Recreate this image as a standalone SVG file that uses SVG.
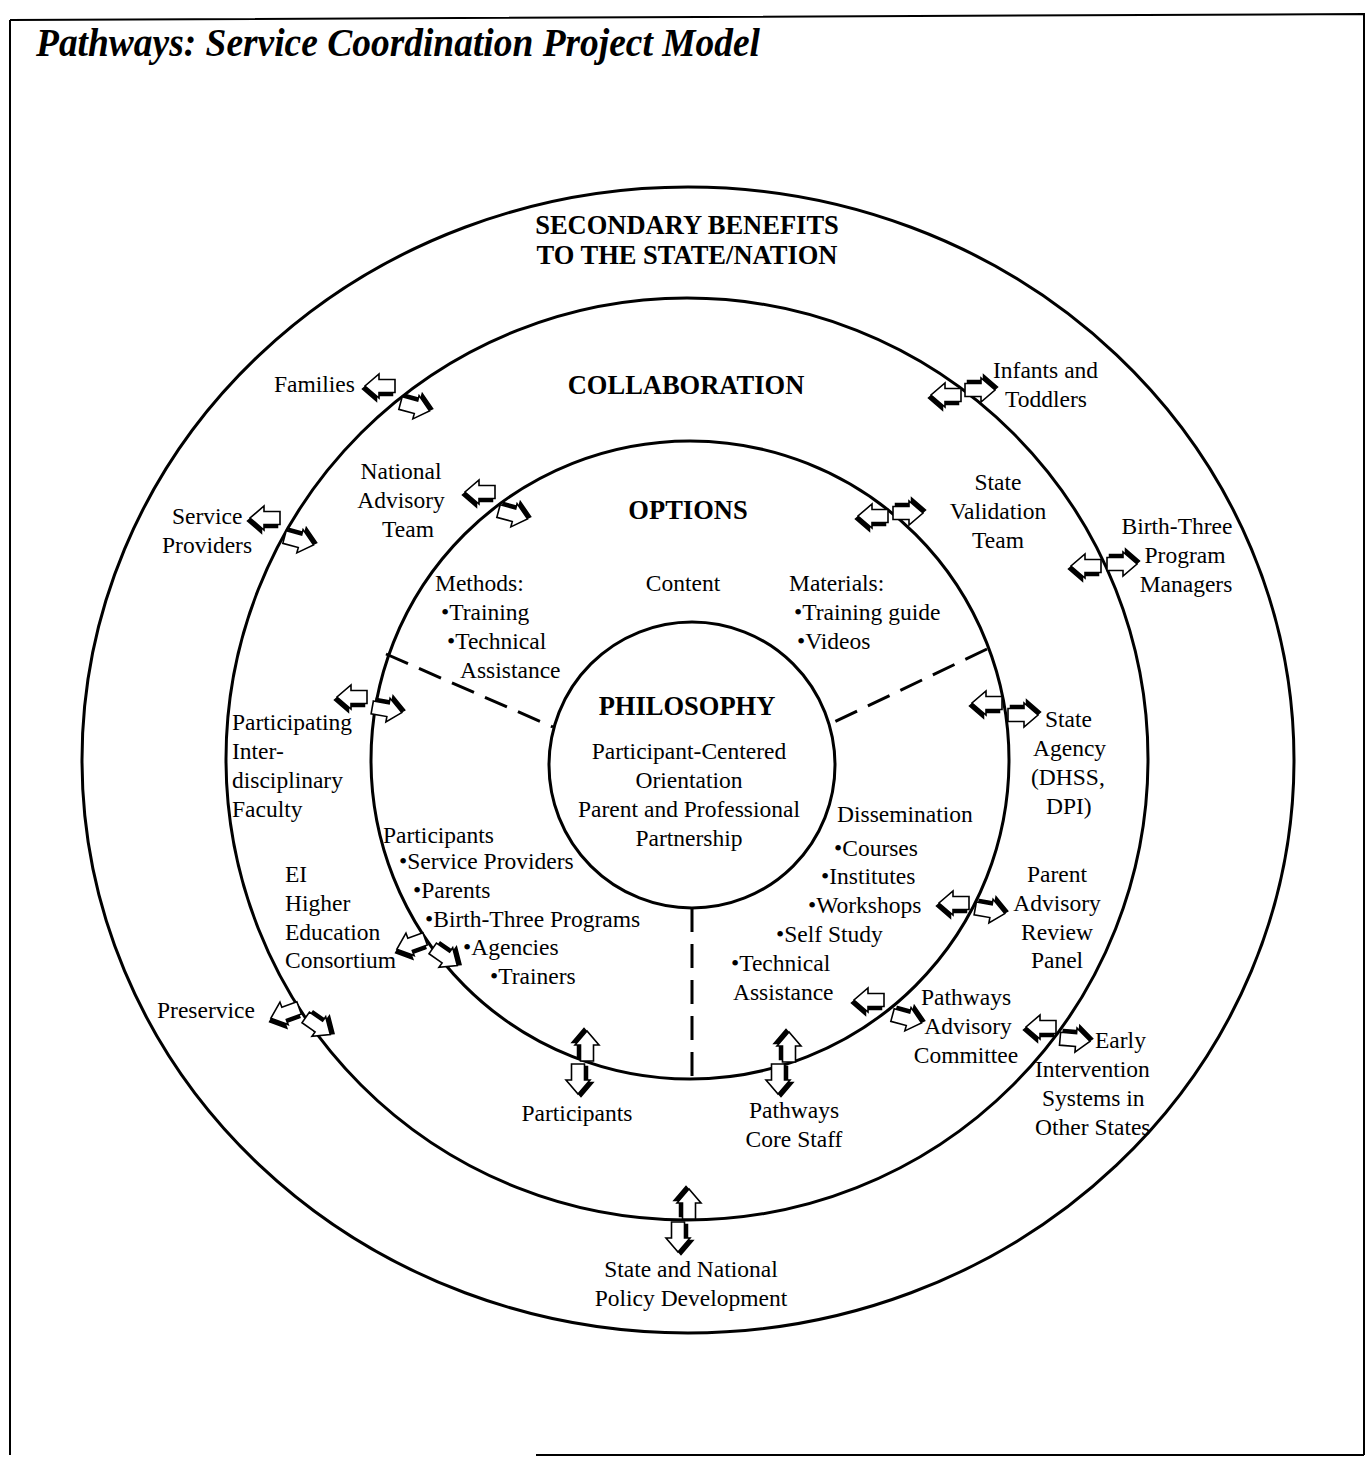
<svg xmlns="http://www.w3.org/2000/svg" xmlns:xlink="http://www.w3.org/1999/xlink" width="1371" height="1457" viewBox="0 0 1371 1457">
  <style>
    text { font-family: "Liberation Serif", "Times New Roman", serif; font-size: 23.5px; fill: #000; }
    .h { font-weight: bold; font-size: 26.5px; text-anchor: middle; }
    .c { text-anchor: middle; }
    .ring { fill: none; stroke: #000; stroke-width: 3; }
    .dash { fill: none; stroke: #000; stroke-width: 3; stroke-dasharray: 24 12; }
    .frame { fill: none; stroke: #000; stroke-width: 2; }
  </style>
  <defs>
    <!-- block arrow pointing +x with an extruded edge on its upper side -->
    <g id="arrow">
      <polygon points="-15,-6.5 1,-6.5 1,-12 15,0 1,12 1,6.5 -15,6.5" transform="translate(2.5,-3)" fill="#000" stroke="#000" stroke-width="1.5"/>
      <polygon points="-15,-6.5 1,-6.5 1,-12 15,0 1,12 1,6.5 -15,6.5" fill="#fff" stroke="#000" stroke-width="1.6"/>
    </g>
  </defs>

  <rect width="1371" height="1457" fill="#fff"/>

  <!-- page frame -->
  <path class="frame" d="M10,20 L1364,14 L1364,1455 M10,20 L10,1455 M536,1455 L1364,1455"/>

  <text x="36" y="56" font-weight="bold" font-style="italic" textLength="724" lengthAdjust="spacingAndGlyphs" style="font-size:41px">Pathways:  Service Coordination Project Model</text>

  <!-- rings -->
  <g id="rings">
    <ellipse class="ring" cx="688" cy="760" rx="606" ry="573"/>
    <circle class="ring" cx="687" cy="759" r="461"/>
    <circle class="ring" cx="690" cy="760" r="319"/>
    <circle class="ring" cx="692" cy="765" r="143"/>
    <line class="dash" x1="386" y1="654" x2="553" y2="727"/>
    <line class="dash" x1="987" y1="649" x2="832" y2="723"/>
    <line class="dash" x1="692" y1="908" x2="692" y2="1079"/>
  </g>

  <!-- headings -->
  <g id="secondary"><text class="h" x="687" y="234">SECONDARY BENEFITS</text><text class="h" x="687" y="264">TO THE STATE/NATION</text></g>
  <g id="collaboration"><text class="h" x="686" y="394">COLLABORATION</text></g>
  <g id="options"><text class="h" x="688" y="519">OPTIONS</text></g>
  <g id="philosophy">
    <text class="h" x="687" y="715">PHILOSOPHY</text>
    <text class="c" x="689" y="759">Participant-Centered</text>
    <text class="c" x="689" y="788">Orientation</text>
    <text class="c" x="689" y="817">Parent and Professional</text>
    <text class="c" x="689" y="846">Partnership</text>
  </g>

  <!-- options sectors -->
  <g id="content"><text class="c" x="683" y="591">Content</text></g>
  <g id="methods">
    <text x="435" y="591">Methods:</text>
    <text x="441" y="620">•Training</text>
    <text x="447" y="649">•Technical</text>
    <text x="460" y="678">Assistance</text>
  </g>
  <g id="materials">
    <text x="789" y="591">Materials:</text>
    <text x="794" y="620">•Training guide</text>
    <text x="797" y="649">•Videos</text>
  </g>
  <g id="participants-list">
    <text x="383" y="843">Participants</text>
    <text x="399" y="869">•Service Providers</text>
    <text x="413" y="898">•Parents</text>
    <text x="425" y="927">•Birth-Three Programs</text>
    <text x="463" y="955">•Agencies</text>
    <text x="490" y="984">•Trainers</text>
  </g>
  <g id="dissemination">
    <text x="837" y="822">Dissemination</text>
    <text x="834" y="856">•Courses</text>
    <text x="821" y="884">•Institutes</text>
    <text x="808" y="913">•Workshops</text>
    <text x="776" y="942">•Self Study</text>
    <text x="731" y="971">•Technical</text>
    <text x="733" y="1000">Assistance</text>
  </g>

  <!-- collaborating partners -->
  <g id="families"><text x="274" y="392">Families</text></g>
  <g id="service-providers"><text x="172" y="524">Service</text><text x="162" y="553">Providers</text></g>
  <g id="national-advisory"><text class="c" x="401" y="479">National</text><text class="c" x="401" y="508">Advisory</text><text class="c" x="408" y="537">Team</text></g>
  <g id="faculty"><text x="232" y="730">Participating</text><text x="232" y="759">Inter-</text><text x="232" y="788">disciplinary</text><text x="232" y="817">Faculty</text></g>
  <g id="ei-consortium"><text x="285" y="882">EI</text><text x="285" y="911">Higher</text><text x="285" y="940">Education</text><text x="285" y="968">Consortium</text></g>
  <g id="preservice"><text x="157" y="1018">Preservice</text></g>
  <g id="participants"><text class="c" x="577" y="1121">Participants</text></g>
  <g id="core-staff"><text class="c" x="794" y="1118">Pathways</text><text class="c" x="794" y="1147">Core Staff</text></g>
  <g id="advisory-committee"><text class="c" x="966" y="1005">Pathways</text><text class="c" x="968" y="1034">Advisory</text><text class="c" x="966" y="1063">Committee</text></g>
  <g id="parent-panel"><text class="c" x="1057" y="882">Parent</text><text class="c" x="1057" y="911">Advisory</text><text class="c" x="1057" y="940">Review</text><text class="c" x="1057" y="968">Panel</text></g>
  <g id="state-agency"><text x="1045" y="727">State</text><text x="1033" y="756">Agency</text><text x="1031" y="785">(DHSS,</text><text x="1046" y="814">DPI)</text></g>
  <g id="validation-team"><text class="c" x="998" y="490">State</text><text class="c" x="998" y="519">Validation</text><text class="c" x="998" y="548">Team</text></g>
  <g id="infants"><text x="993" y="378">Infants and</text><text x="1005" y="407">Toddlers</text></g>
  <g id="program-managers"><text class="c" x="1177" y="534">Birth-Three</text><text class="c" x="1185" y="563">Program</text><text class="c" x="1186" y="592">Managers</text></g>
  <g id="other-states"><text x="1095" y="1048">Early</text><text x="1035" y="1077">Intervention</text><text x="1042" y="1106">Systems in</text><text x="1035" y="1135">Other States</text></g>
  <g id="policy"><text class="c" x="691" y="1277">State and National</text><text class="c" x="691" y="1306">Policy Development</text></g>

  <!-- two-way arrows -->
  <g id="connectors">
    <use href="#arrow" transform="translate(380,386) rotate(180)"/>
    <use href="#arrow" transform="translate(415,407) rotate(15)"/>
    <use href="#arrow" transform="translate(265,518) rotate(180)"/>
    <use href="#arrow" transform="translate(299,541) rotate(15)"/>
    <use href="#arrow" transform="translate(480,492) rotate(180)"/>
    <use href="#arrow" transform="translate(513,515) rotate(15)"/>
    <use href="#arrow" transform="translate(352,697) rotate(180)"/>
    <use href="#arrow" transform="translate(387,710) rotate(10)"/>
    <use href="#arrow" transform="translate(411,944) rotate(160)"/>
    <use href="#arrow" transform="translate(445,957) rotate(35)"/>
    <use href="#arrow" transform="translate(285,1013) rotate(160)"/>
    <use href="#arrow" transform="translate(318,1026) rotate(35)"/>
    <use href="#arrow" transform="translate(946,395) rotate(180)"/>
    <use href="#arrow" transform="translate(980,390)"/>
    <use href="#arrow" transform="translate(873,516) rotate(180)"/>
    <use href="#arrow" transform="translate(908,513)"/>
    <use href="#arrow" transform="translate(1086,566) rotate(180)"/>
    <use href="#arrow" transform="translate(1122,564)"/>
    <use href="#arrow" transform="translate(987,703) rotate(180)"/>
    <use href="#arrow" transform="translate(1023,715)"/>
    <use href="#arrow" transform="translate(954,903) rotate(180)"/>
    <use href="#arrow" transform="translate(990,911) rotate(10)"/>
    <use href="#arrow" transform="translate(869,1000) rotate(180)"/>
    <use href="#arrow" transform="translate(907,1019) rotate(15)"/>
    <use href="#arrow" transform="translate(1041,1027) rotate(180)"/>
    <use href="#arrow" transform="translate(1075,1040) rotate(5)"/>
    <use href="#arrow" transform="translate(587,1046) rotate(-90)"/>
    <use href="#arrow" transform="translate(578,1079) rotate(90)"/>
    <use href="#arrow" transform="translate(789,1047) rotate(-90)"/>
    <use href="#arrow" transform="translate(778,1079) rotate(90)"/>
    <use href="#arrow" transform="translate(689,1204) rotate(-90)"/>
    <use href="#arrow" transform="translate(678,1237) rotate(90)"/>
  </g>
</svg>
